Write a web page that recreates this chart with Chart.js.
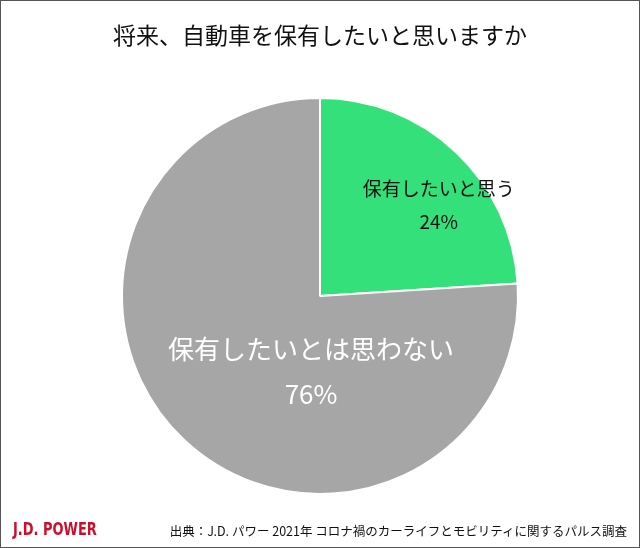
<!DOCTYPE html>
<html><head><meta charset="utf-8">
<script src="https://cdn.jsdelivr.net/npm/chart.js@4"></script>
<style>
body{margin:0;background:#fff;font-family:"Noto Sans CJK JP",sans-serif}
#wrap{position:relative;width:640px;height:548px;box-sizing:border-box;border:1px solid #555}
canvas{position:absolute;left:0;top:0}
#title{position:absolute;top:16px;width:100%;text-align:center;font-size:23px;color:#111}
#logo{position:absolute;left:12px;top:518px;font-family:"Liberation Sans Narrow","DejaVu Sans Condensed",sans-serif;font-weight:bold;font-size:17px;color:#c8102e;transform:scaleX(0.85);transform-origin:left}
#src{position:absolute;right:12px;top:520px;font-size:12.5px;color:#111}
</style></head><body>
<div id="wrap">
<canvas id="c" width="640" height="548"></canvas>
<div id="title">将来、自動車を保有したいと思いますか</div>
<div id="logo">J.D. POWER</div>
<div id="src">出典：J.D. パワー 2021年 コロナ禍のカーライフとモビリティに関するパルス調査</div>
</div>
<script>
const categories = ["保有したいと思う", "保有したいとは思わない"];
const values = [24, 76];
const colors = ["#33e07a", "#a6a6a6"];

const sliceLabels = {
  id: "sliceLabels",
  afterDatasetsDraw(chart) {
    const ctx = chart.ctx;
    const arcs = chart.getDatasetMeta(0).data;
    // label anchor offsets as fractions of radius from centre
    const styles = [
      { size: 19, color: "#111", dx: 0.60, dy: -0.46, gap: 33 },
      { size: 26, color: "#fff", dx: -0.045, dy: 0.38, gap: 45 }
    ];
    arcs.forEach((arc, i) => {
      const s = styles[i];
      const x = arc.x + s.dx * arc.outerRadius;
      const y = arc.y + s.dy * arc.outerRadius;
      ctx.save();
      ctx.fillStyle = s.color;
      ctx.textAlign = "center";
      ctx.textBaseline = "middle";
      ctx.font = s.size + "px 'Noto Sans CJK JP'";
      ctx.fillText(categories[i], x, y - s.gap / 2);
      ctx.fillText(values[i] + "%", x, y + s.gap / 2);
      ctx.restore();
    });
  }
};

new Chart(document.getElementById("c"), {
  type: "pie",
  data: { labels: categories, datasets: [{ data: values, backgroundColor: colors, borderColor: "#fff", borderWidth: 2 }] },
  options: {
    responsive: false,
    animation: false,
    layout: { padding: { top: 96, bottom: 54, left: 120, right: 122 } },
    plugins: { legend: { display: false }, tooltip: { enabled: false } }
  },
  plugins: [sliceLabels]
});
</script>
</body></html>
